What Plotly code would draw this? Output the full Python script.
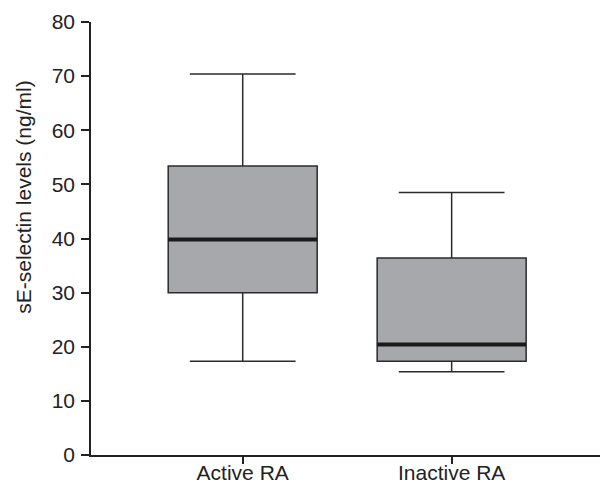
import plotly.graph_objects as go

categories = ["Active RA", "Inactive RA"]
lower_whisker = [17.3, 15.4]
q1_vals = [30.0, 17.3]
median_vals = [39.8, 20.4]
q3_vals = [53.4, 36.4]
upper_whisker = [70.4, 48.5]
y_ticks = [0, 10, 20, 30, 40, 50, 60, 70, 80]

fig = go.Figure()
fig.add_trace(go.Box(
    x=categories,
    q1=q1_vals, median=median_vals, q3=q3_vals,
    lowerfence=lower_whisker, upperfence=upper_whisker,
    fillcolor="#a7a8ab",
    line=dict(color="#2b2b2b", width=1.5),
    width=0.713,
    whiskerwidth=0.71,
    boxpoints=False,
    showlegend=False,
    hoverinfo="skip",
))
# thicker median bars
for i, c in enumerate(categories):
    fig.add_shape(type="line", xref="x", yref="y",
                  x0=i - 0.3565, x1=i + 0.3565,
                  y0=median_vals[i], y1=median_vals[i],
                  line=dict(color="#1a1a1a", width=4))

font = dict(family="Liberation Sans, Arial, sans-serif", size=21, color="#222")
fig.update_layout(
    width=600, height=487,
    margin=dict(l=91, r=0, t=22, b=32, autoexpand=False),
    paper_bgcolor="white", plot_bgcolor="white",
    font=font,
    xaxis=dict(
        type="category", categoryorder="array", categoryarray=categories,
        range=[-0.726, 1.71], automargin=False,
        showline=True, linecolor="#222", linewidth=1.5,
        ticks="outside", ticklen=7, tickcolor="#222", tickwidth=1.5,
        showgrid=False, zeroline=False,
        ticklabelstandoff=-9,
    ),
    yaxis=dict(
        range=[0, 80], tickvals=y_ticks, automargin=False,
        showline=True, linecolor="#222", linewidth=1.5,
        ticks="outside", ticklen=8, tickcolor="#222", tickwidth=1.5,
        showgrid=False, zeroline=False,
        ticklabelstandoff=2,
    ),
    annotations=[dict(
        text="sE-selectin levels (ng/ml)", textangle=-90,
        xref="paper", yref="paper", x=-0.132, y=0.596,
        xanchor="center", yanchor="middle", showarrow=False,
        font=font,
    )],
)

fig.write_html("out.html", config={"displayModeBar": False},
               post_script="document.body.style.margin='0';document.body.style.padding='0';")
